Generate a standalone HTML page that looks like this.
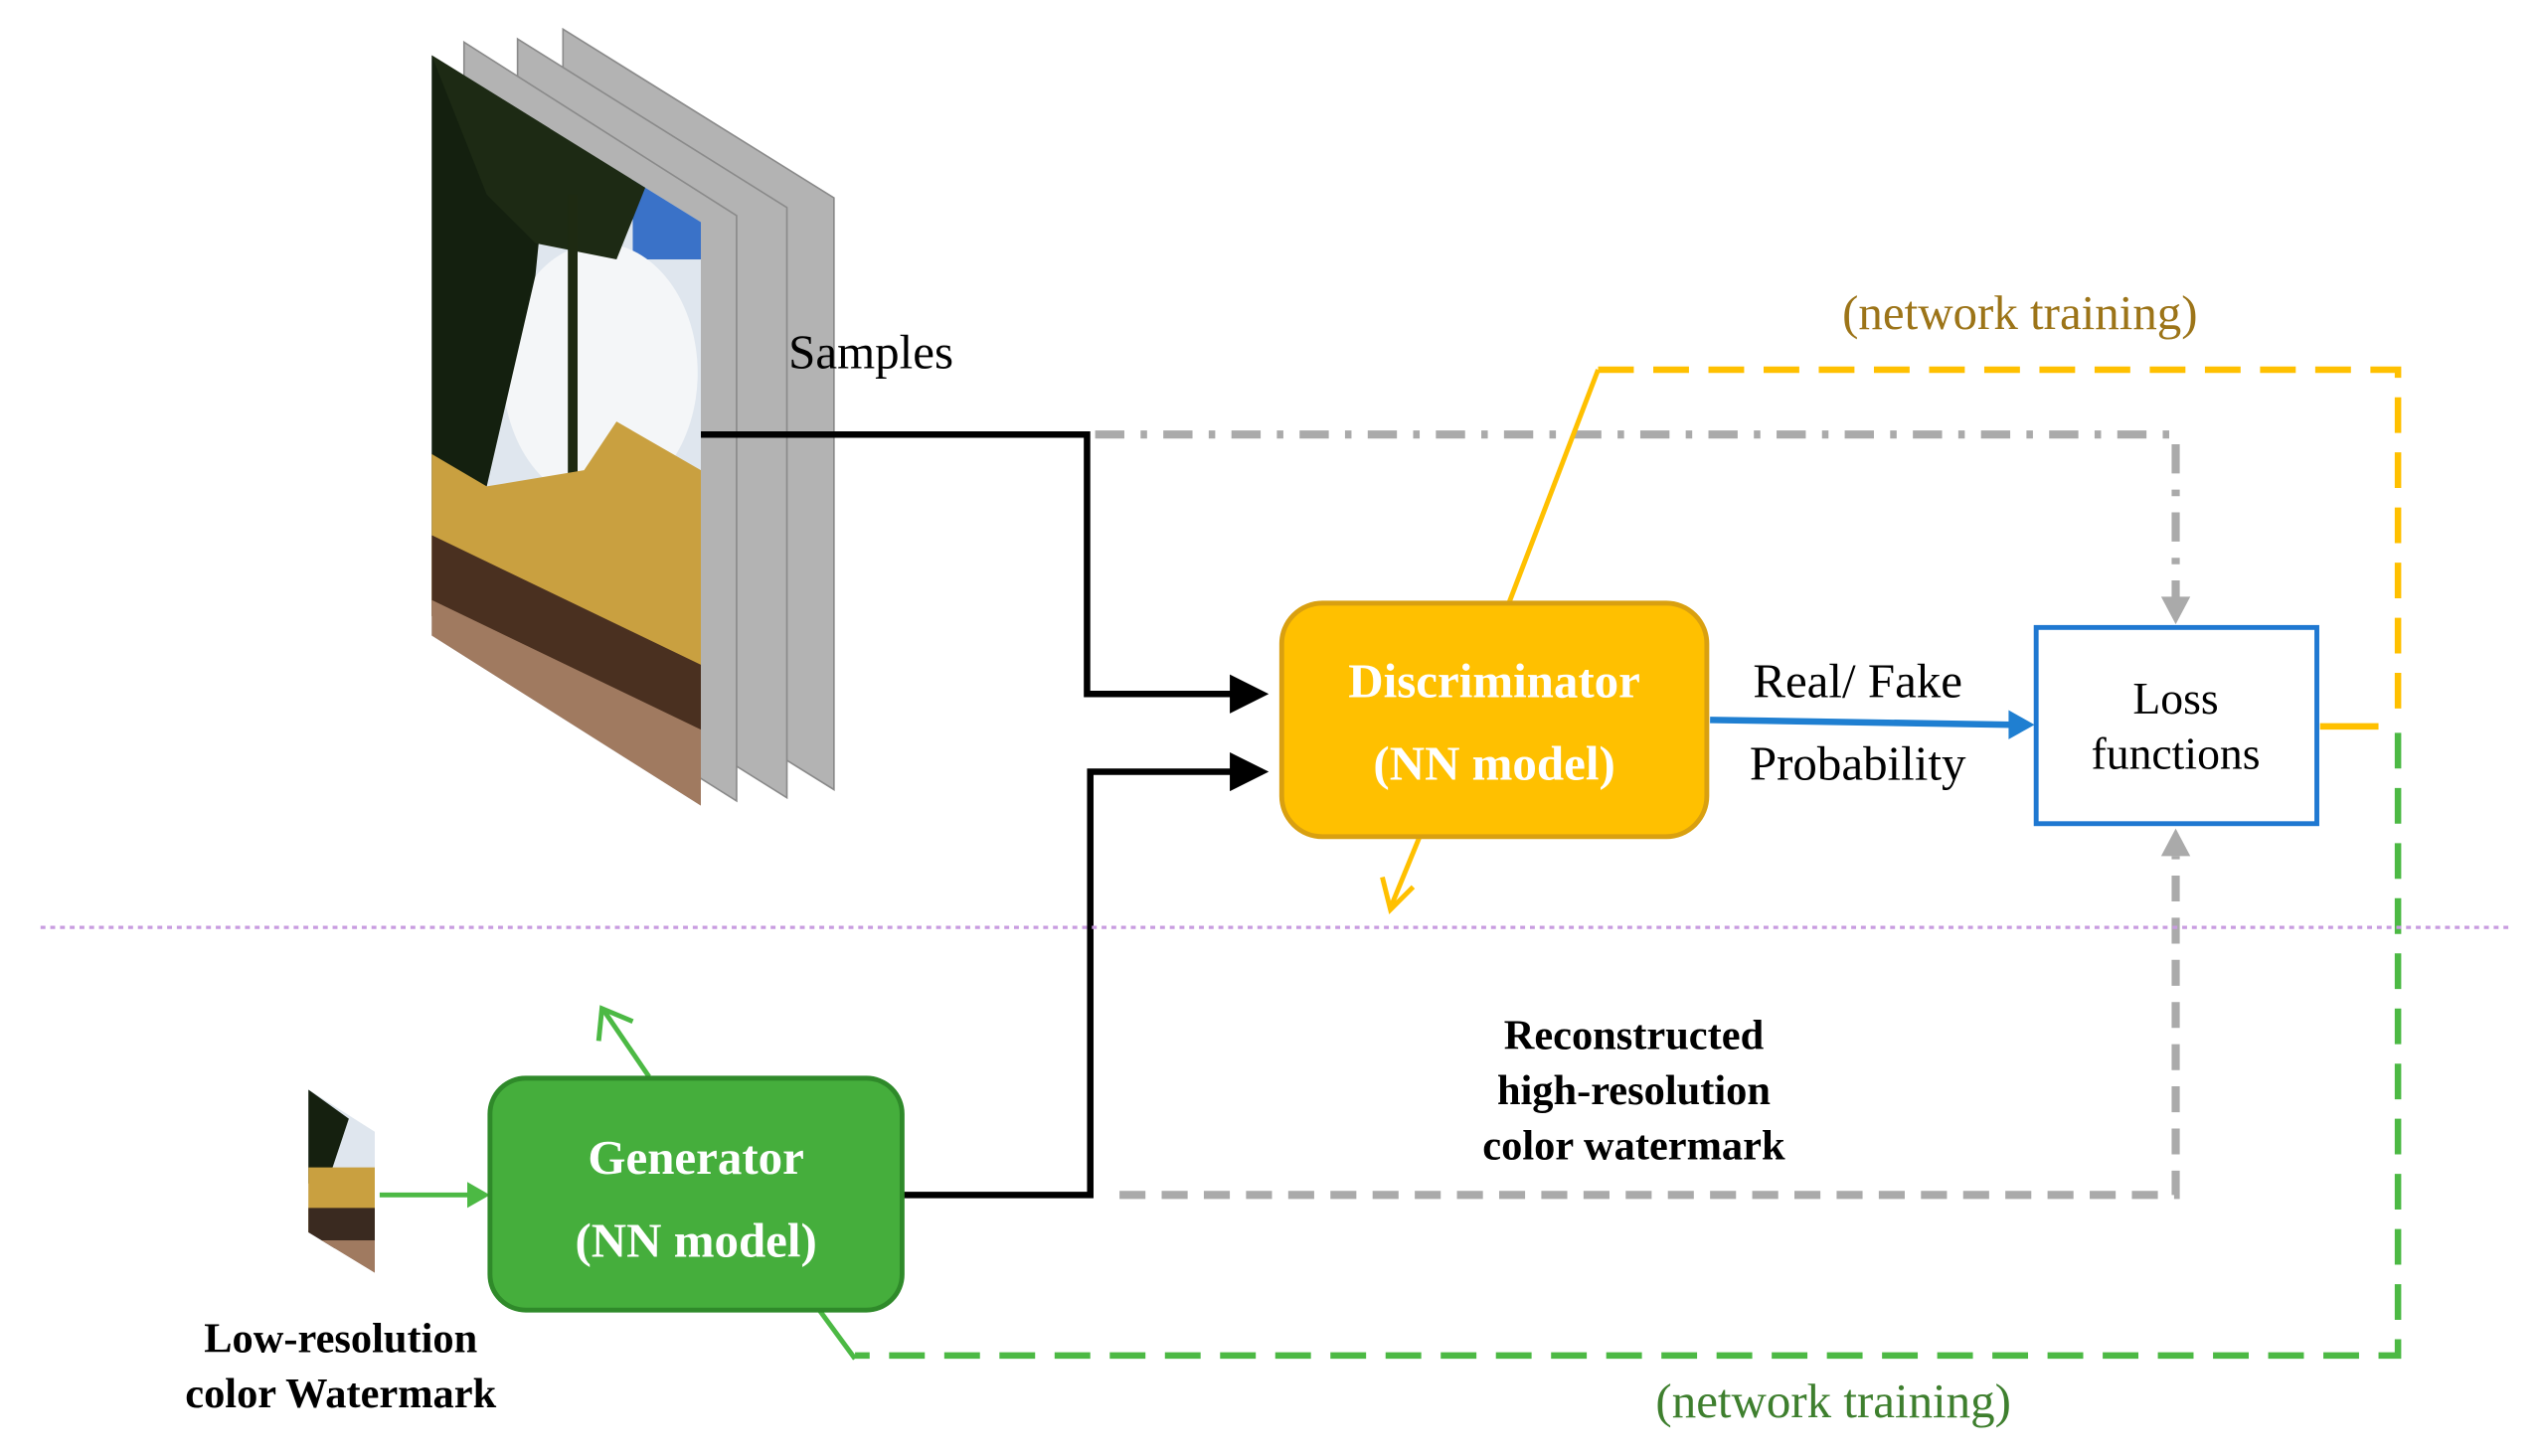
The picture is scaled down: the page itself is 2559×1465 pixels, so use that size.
<!DOCTYPE html>
<html><head><meta charset="utf-8"><style>html,body{margin:0;padding:0;background:#fff}svg{display:block}</style></head>
<body>
<svg width="2559" height="1465" viewBox="0 0 1568 898" preserveAspectRatio="none" xmlns="http://www.w3.org/2000/svg" font-family="Liberation Serif, serif">
<defs>
<clipPath id="ph"><polygon points="266,34 432,137 432,497 266,392"/></clipPath>
<clipPath id="ph2"><polygon points="190,672 231,698 231,785 190,760"/></clipPath>
<marker id="ab" markerWidth="6" markerHeight="6" refX="5" refY="3" orient="auto" markerUnits="strokeWidth"><path d="M0,0 L6,3 L0,6z" fill="#000"/></marker>
</defs>
<polygon points="347,18 514,122 514,487 347,383" fill="#b3b3b3" stroke="#8a8a8a" stroke-width="1"/>
<polygon points="319,24 485,128 485,492 319,388" fill="#b3b3b3" stroke="#8a8a8a" stroke-width="1"/>
<polygon points="286,26 454,133 454,494 286,388" fill="#b3b3b3" stroke="#8a8a8a" stroke-width="1"/>
<g clip-path="url(#ph)">
<rect x="260" y="30" width="180" height="480" fill="#dfe6ee"/>
<rect x="390" y="100" width="45" height="60" fill="#3a72c8"/>
<ellipse cx="370" cy="230" rx="60" ry="80" fill="#f4f6f8"/>
<polygon points="266,34 340,70 330,170 300,300 266,330" fill="#14200f"/>
<polygon points="266,34 400,110 380,160 330,150 300,120" fill="#1d2a14"/>
<rect x="350" y="120" width="6" height="300" fill="#1e2a12"/>
<polygon points="266,280 300,300 360,290 380,260 432,290 432,460 266,380" fill="#c9a040"/>
<polygon points="266,330 432,410 432,460 266,380" fill="#4a3020"/>
<polygon points="266,370 432,450 432,497 266,392" fill="#a07a60"/>
</g>
<text x="486" y="227" font-size="30">Samples</text>
<polyline points="432,268 670,268 670,428 778,428" fill="none" stroke="#000" stroke-width="4" marker-end="url(#ab)"/>
<polyline points="557,737 672,737 672,476 778,476" fill="none" stroke="#000" stroke-width="4" marker-end="url(#ab)"/>
<polyline points="675,268 1341,268 1341,372" fill="none" stroke="#aaa" stroke-width="5" stroke-dasharray="18,10,4,10"/>
<polygon points="1332,368 1350,368 1341,385" fill="#aaa"/>
<polyline points="690,737 1341,737 1341,528" fill="none" stroke="#aaa" stroke-width="5" stroke-dasharray="16,10"/>
<polygon points="1332,528 1350,528 1341,511" fill="#aaa"/>
<line x1="930" y1="372" x2="985" y2="228" stroke="#FFC000" stroke-width="3"/>
<polyline points="985,228 1478,228 1478,448" fill="none" stroke="#FFC000" stroke-width="4" stroke-dasharray="22,12"/>
<line x1="1430" y1="448" x2="1466" y2="448" stroke="#FFC000" stroke-width="4"/>
<line x1="875" y1="516" x2="857" y2="560" stroke="#FFC000" stroke-width="3"/>
<polyline points="852,541 857,561 871,547" fill="none" stroke="#FFC000" stroke-width="3"/>
<polyline points="1478,452 1478,836 527,836" fill="none" stroke="#4CB944" stroke-width="4" stroke-dasharray="22,12"/>
<line x1="527" y1="838" x2="505" y2="808" stroke="#4CB944" stroke-width="3"/>
<line x1="400" y1="664" x2="372" y2="623" stroke="#4CB944" stroke-width="3"/>
<polyline points="369,642 371,622 390,630" fill="none" stroke="#4CB944" stroke-width="3"/>
<line x1="234" y1="737" x2="290" y2="737" stroke="#4CB944" stroke-width="3"/>
<polygon points="288,729 302,737 288,745" fill="#4CB944"/>
<line x1="25" y1="572" x2="1548" y2="572" stroke="#C89CE0" stroke-width="2" stroke-dasharray="3,3"/>
<rect x="790" y="372" width="262" height="144" rx="25" fill="#FFC000" stroke="#D9A010" stroke-width="3"/>
<text x="921" y="430" font-size="30" font-weight="bold" fill="#fff" text-anchor="middle">Discriminator</text>
<text x="921" y="481" font-size="30" font-weight="bold" fill="#fff" text-anchor="middle">(NN model)</text>
<line x1="1054" y1="444" x2="1240" y2="447" stroke="#1F7FD1" stroke-width="4"/>
<polygon points="1238,438 1254,447 1238,456" fill="#1F7FD1"/>
<text x="1145" y="430" font-size="30" text-anchor="middle">Real/ Fake</text>
<text x="1145" y="481" font-size="30" text-anchor="middle">Probability</text>
<rect x="1255" y="387" width="173" height="121" fill="#fff" stroke="#1F78D1" stroke-width="3"/>
<text x="1341" y="440" font-size="28" text-anchor="middle">Loss</text>
<text x="1341" y="474" font-size="28" text-anchor="middle">functions</text>
<text x="1245" y="203" font-size="30" fill="#9C7418" text-anchor="middle">(network training)</text>
<rect x="302" y="665" width="254" height="143" rx="22" fill="#45AE3C" stroke="#2F8A2A" stroke-width="3"/>
<text x="429" y="724" font-size="30" font-weight="bold" fill="#fff" text-anchor="middle">Generator</text>
<text x="429" y="775" font-size="30" font-weight="bold" fill="#fff" text-anchor="middle">(NN model)</text>
<g clip-path="url(#ph2)">
<rect x="188" y="670" width="45" height="120" fill="#dfe6ee"/>
<polygon points="190,672 215,690 205,720 190,730" fill="#15200f"/>
<rect x="190" y="720" width="41" height="40" fill="#c9a040"/>
<rect x="190" y="745" width="41" height="25" fill="#3a2a20"/>
<rect x="190" y="765" width="41" height="25" fill="#a07a60"/>
</g>
<text x="210" y="834" font-size="26" font-weight="bold" text-anchor="middle">Low-resolution</text>
<text x="210" y="868" font-size="26" font-weight="bold" text-anchor="middle">color Watermark</text>
<text x="1007" y="647" font-size="26" font-weight="bold" text-anchor="middle">Reconstructed</text>
<text x="1007" y="681" font-size="26" font-weight="bold" text-anchor="middle">high-resolution</text>
<text x="1007" y="715" font-size="26" font-weight="bold" text-anchor="middle">color watermark</text>
<text x="1130" y="874" font-size="30" fill="#3E7F2E" text-anchor="middle">(network training)</text>
</svg>
</body></html>
